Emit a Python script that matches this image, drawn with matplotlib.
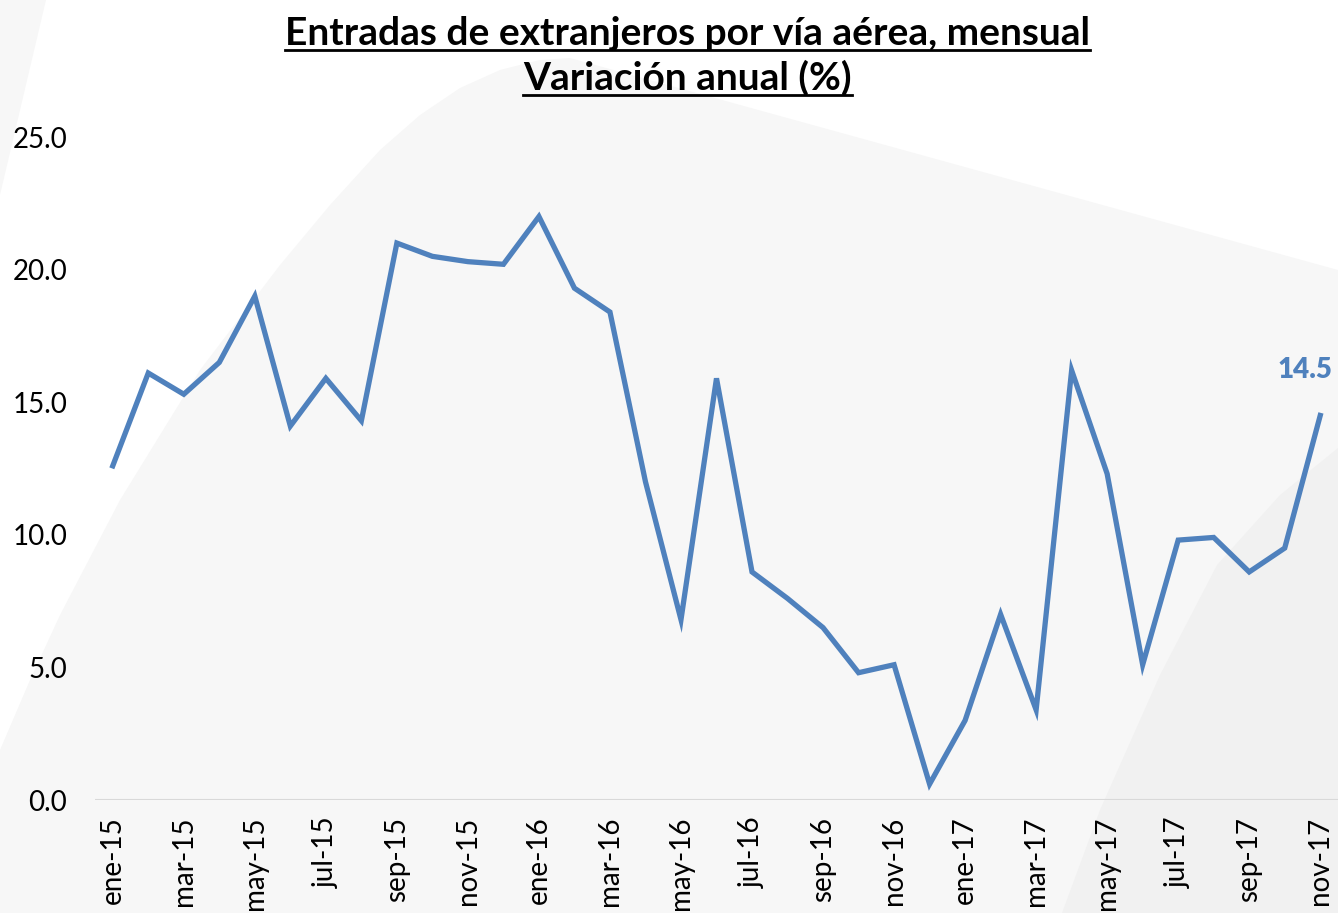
import matplotlib.pyplot as plt
from matplotlib.patches import Polygon
from matplotlib.lines import Line2D

meses = ['ene', 'feb', 'mar', 'abr', 'may', 'jun', 'jul', 'ago', 'sep', 'oct', 'nov', 'dic']
etiquetas = [m + '-' + a for a in ['15', '16', '17'] for m in meses][:35]

variacion = [12.6, 16.1, 15.3, 16.5, 19.0, 14.1, 15.9, 14.3, 21.0, 20.5, 20.3, 20.2,
             22.0, 19.3, 18.4, 12.0, 6.8, 15.9, 8.6, 7.6, 6.5, 4.8, 5.1, 0.6,
             3.0, 7.0, 3.4, 16.2, 12.3, 5.1, 9.8, 9.9, 8.6, 9.5, 14.5]

azul = '#4f81bd'
plt.rcParams['font.family'] = ['Lato', 'DejaVu Sans']

W, H = 1338, 913
fig = plt.figure(figsize=(13.38, 9.13), dpi=100, facecolor='white')


def forma(pts, color):
    # puntos en pixeles (y desde arriba) -> fraccion de figura
    p = Polygon([[x / W, 1 - y / H] for x, y in pts], closed=True,
                transform=fig.transFigure, facecolor=color, edgecolor='none', zorder=-10)
    fig.patches.append(p)


# fondo decorativo
forma([(0, 0), (46, 0), (0, 195)], '#f7f7f7')
forma([(0, 750), (30, 680), (60, 615), (120, 500), (200, 370), (280, 265), (330, 205),
       (380, 150), (420, 115), (460, 88), (500, 70), (540, 60), (570, 58),
       (1338, 270), (1338, 913), (0, 913)], '#f7f7f7')
forma([(1062, 913), (1100, 810), (1160, 675), (1217, 565), (1280, 495), (1338, 448),
       (1338, 913)], '#f1f1f1')

ax = fig.add_axes([95 / W, 113 / H, 1 - 95 / W, 663 / H])
ax.set_facecolor('none')

x = list(range(len(variacion)))
ax.plot(x, variacion, color=azul, linewidth=3.8, solid_joinstyle='miter')
ax.axhline(0, color='#d9d9d9', linewidth=1.5, zorder=0)

ax.set_xlim(-0.5, 34.5)
ax.set_ylim(0, 25)
ax.set_yticks([0, 5, 10, 15, 20, 25])
ax.set_yticklabels(['%.1f' % v for v in [0, 5, 10, 15, 20, 25]], fontsize=20)
ax.set_xticks(x[::2])
ax.set_xticklabels(etiquetas[::2], rotation=90, fontsize=20, va='top')
ax.tick_params(length=0)
ax.tick_params(axis='x', pad=12)
ax.tick_params(axis='y', pad=20)
for s in ax.spines.values():
    s.set_visible(False)

ax.annotate('%.1f' % variacion[-1], (x[-1], variacion[-1]), xytext=(-11, 33),
            textcoords='offset points', ha='center', va='center',
            fontsize=20, fontweight='heavy', color=azul)

# titulo subrayado
t1 = fig.text(0.514, 0.951, 'Entradas de extranjeros por vía aérea, mensual',
              ha='center', va='baseline', fontsize=28, fontweight='bold')
t2 = fig.text(0.514, 0.902, 'Variación anual (%)',
              ha='center', va='baseline', fontsize=28, fontweight='bold')
fig.canvas.draw()
r = fig.canvas.get_renderer()
for t, yb in [(t1, 0.951), (t2, 0.902)]:
    bb = t.get_window_extent(r).transformed(fig.transFigure.inverted())
    fig.lines.append(Line2D([bb.x0, bb.x1], [yb - 0.006, yb - 0.006],
                            transform=fig.transFigure, color='black', linewidth=2))

fig.savefig('out.png', dpi=100, facecolor=fig.get_facecolor())
